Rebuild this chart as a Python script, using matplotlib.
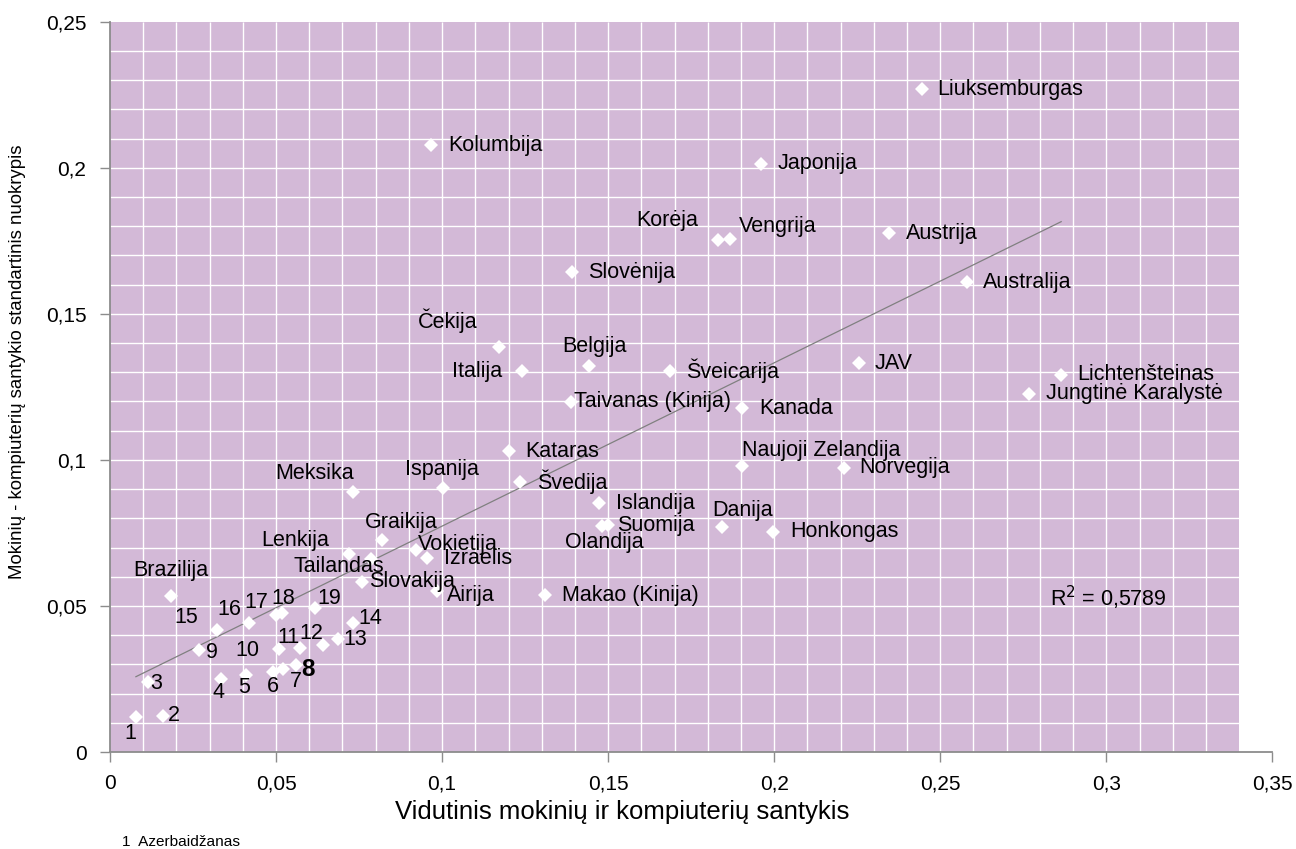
import numpy as np
import matplotlib
matplotlib.use("Agg")
import matplotlib.pyplot as plt
from matplotlib.patches import Rectangle

plt.rcParams['font.family'] = ['Liberation Sans', 'DejaVu Sans']

# Named countries: mean student/computer ratio vs. its standard deviation
countries = [
    "Kolumbija", "Japonija", "Korėja", "Vengrija", "Slovėnija", "Liuksemburgas",
    "Austrija", "Australija", "JAV", "Lichtenšteinas", "Jungtinė Karalystė",
    "Norvegija", "Kanada", "Naujoji Zelandija", "Honkongas", "Danija", "Čekija",
    "Italija", "Belgija", "Šveicarija", "Taivanas (Kinija)", "Kataras", "Švedija",
    "Ispanija", "Islandija", "Olandija", "Suomija", "Vokietija", "Izraelis",
    "Airija", "Makao (Kinija)", "Slovakija", "Meksika", "Graikija", "Lenkija",
    "Tailandas", "Brazilija",
]
country_x = [
    0.0966, 0.1960, 0.1830, 0.1866, 0.1390, 0.2444,
    0.2347, 0.2581, 0.2254, 0.2864, 0.2766,
    0.2209, 0.1904, 0.1902, 0.1997, 0.1842, 0.1171,
    0.1241, 0.1443, 0.1687, 0.1388, 0.1202, 0.1234,
    0.1003, 0.1472, 0.1481, 0.1500, 0.0921, 0.0954,
    0.0986, 0.1310, 0.0758, 0.0731, 0.0820, 0.0720,
    0.0785, 0.0183,
]
country_y = [
    0.2077, 0.2013, 0.1753, 0.1756, 0.1643, 0.2269,
    0.1776, 0.1608, 0.1331, 0.1292, 0.1227,
    0.0973, 0.1177, 0.0979, 0.0754, 0.0769, 0.1385,
    0.1304, 0.1323, 0.1304, 0.1199, 0.1030, 0.0924,
    0.0905, 0.0851, 0.0774, 0.0777, 0.0692, 0.0663,
    0.0550, 0.0536, 0.0583, 0.0889, 0.0726, 0.0678,
    0.0661, 0.0534,
]

# Numbered countries (1 = Azerbaidžanas, ...)
numbered = [str(i) for i in range(1, 20)]
numbered_x = [
    0.0078, 0.0160, 0.0114, 0.0333, 0.0410, 0.0490, 0.0520, 0.0560, 0.0269,
    0.0508, 0.0573, 0.0642, 0.0687, 0.0733, 0.0323, 0.0419, 0.0500, 0.0517,
    0.0617,
]
numbered_y = [
    0.0121, 0.0124, 0.0241, 0.0250, 0.0265, 0.0275, 0.0283, 0.0299, 0.0349,
    0.0352, 0.0356, 0.0366, 0.0387, 0.0441, 0.0418, 0.0443, 0.0469, 0.0477,
    0.0492,
]

r_squared = 0.5789

x_ticks = [0, 0.05, 0.10, 0.15, 0.20, 0.25, 0.30, 0.35]
y_ticks = [0, 0.05, 0.10, 0.15, 0.20, 0.25]

# label placement: (dx px, dy px, horizontal alignment)
name_layout = {
    "Kolumbija": (17, 0, "left"), "Japonija": (17, 0, "left"),
    "Korėja": (-20, 19, "right"), "Vengrija": (9, 13, "left"),
    "Slovėnija": (16, 0, "left"), "Liuksemburgas": (16, 0, "left"),
    "Austrija": (16, 0, "left"), "Australija": (16, 0, "left"),
    "JAV": (16, 0, "left"), "Lichtenšteinas": (16, 0, "left"),
    "Jungtinė Karalystė": (17, 0, "left"), "Norvegija": (16, 0, "left"),
    "Kanada": (17, 0, "left"), "Naujoji Zelandija": (0, 16, "left"),
    "Honkongas": (17, 0, "left"), "Danija": (21, 17, "center"),
    "Čekija": (-51, 27, "center"), "Italija": (-20, 0, "right"),
    "Belgija": (5, 19, "center"), "Šveicarija": (16, 0, "left"),
    "Taivanas (Kinija)": (3, 0, "left"), "Kataras": (16, 0, "left"),
    "Švedija": (17, 0, "left"), "Ispanija": (-1, 18, "center"),
    "Islandija": (17, 0, "left"), "Olandija": (2, -17, "center"),
    "Suomija": (9, 0, "left"), "Vokietija": (2, 5, "left"),
    "Izraelis": (17, 0, "left"), "Airija": (9, -4, "left"),
    "Makao (Kinija)": (17, 0, "left"), "Slovakija": (7, 0, "left"),
    "Meksika": (-38, 19, "center"), "Graikija": (19, 17, "center"),
    "Lenkija": (-54, 13, "center"), "Tailandas": (-32, -8, "center"),
    "Brazilija": (0, 26, "center"),
}
number_layout = [
    (-6, -17), (11, 0), (8, -2), (-2, -14), (-2, -13), (0, -15), (13, -12),
    (12, -5), (13, -2), (-31, -1), (-12, 11), (-12, 12), (17, -1), (17, 5),
    (-31, 12), (-20, 13), (-20, 12), (2, 14), (14, 10),
]

PLOT_BG = "#D3B9D7"
AXIS_GREY = "#8C8C8C"
FS = 15.5

fig = plt.figure(figsize=(12.96, 8.49), dpi=100)
ax = fig.add_axes([110 / 1296, 97 / 849, 1162.4 / 1296, 730.3 / 849])
ax.set_xlim(0, 0.35)
ax.set_ylim(0, 0.25)
ax.set_facecolor("white")

# shaded plot region with a fine white grid (stops at 0.34)
x_edge = 0.34
ax.add_patch(Rectangle((0, 0), x_edge, 0.25, facecolor=PLOT_BG, edgecolor="none", zorder=0))
ax.vlines(np.arange(1, 34) / 100, 0, 0.25, colors="white", linewidth=1.0, zorder=1)
ax.hlines(np.arange(1, 25) / 100, 0, x_edge, colors="white", linewidth=1.0, zorder=1)

# linear trend line over all countries
all_x = np.array(country_x + numbered_x)
all_y = np.array(country_y + numbered_y)
slope, intercept = np.polyfit(all_x, all_y, 1)
xs = np.array([all_x.min(), all_x.max()])
ax.plot(xs, slope * xs + intercept, color="#808080", linewidth=0.9, zorder=2)

ax.plot(all_x, all_y, linestyle="none", marker="D", markersize=7,
        markerfacecolor="white", markeredgewidth=0, zorder=3)

for name, x, y in zip(countries, country_x, country_y):
    dx, dy, ha = name_layout[name]
    ax.annotate(name, (x, y), xytext=(dx, dy), textcoords="offset pixels",
                ha=ha, va="center", fontsize=FS, zorder=4)

for lab, x, y, (dx, dy) in zip(numbered, numbered_x, numbered_y, number_layout):
    bold = lab == "8"
    ax.annotate(lab, (x, y), xytext=(dx, dy), textcoords="offset pixels",
                ha="center", va="center", fontsize=FS + 2 if bold else FS,
                fontweight="bold" if bold else "normal", zorder=4)

ax.text(0.2830, 0.0527, "R$^2$ = " + f"{r_squared:.4f}".replace(".", ","),
        ha="left", va="center", fontsize=FS, zorder=4)

def comma(v):
    s = f"{v:g}"
    return s.replace(".", ",")

ax.set_xticks(x_ticks)
ax.set_xticklabels([comma(v) for v in x_ticks], fontsize=15)
ax.set_yticks(y_ticks)
ax.set_yticklabels([comma(v) for v in y_ticks], fontsize=15)
ax.tick_params(axis="both", direction="out", length=7, width=1.0, color=AXIS_GREY)
ax.tick_params(axis="x", pad=9)
ax.tick_params(axis="y", pad=10)

for side in ("top", "right"):
    ax.spines[side].set_visible(False)
for side in ("left", "bottom"):
    ax.spines[side].set_color(AXIS_GREY)
    ax.spines[side].set_linewidth(1.3)
    ax.spines[side].set_zorder(5)

fig.text(622 / 1296, 1 - 812 / 849, "Vidutinis mokinių ir kompiuterių santykis",
         ha="center", va="center", fontsize=18.5)
fig.text(18 / 1296, 1 - 362 / 849, "Mokinių - kompiuterių santykio standartinis nuokrypis",
         ha="center", va="center", rotation=90, fontsize=13.4,
         family=["Liberation Sans Narrow", "Liberation Sans", "DejaVu Sans"])
fig.text(122 / 1296, 1 - 842 / 849, "1  Azerbaidžanas", ha="left", va="center", fontsize=11.1)

fig.savefig("out.png", dpi=100)
